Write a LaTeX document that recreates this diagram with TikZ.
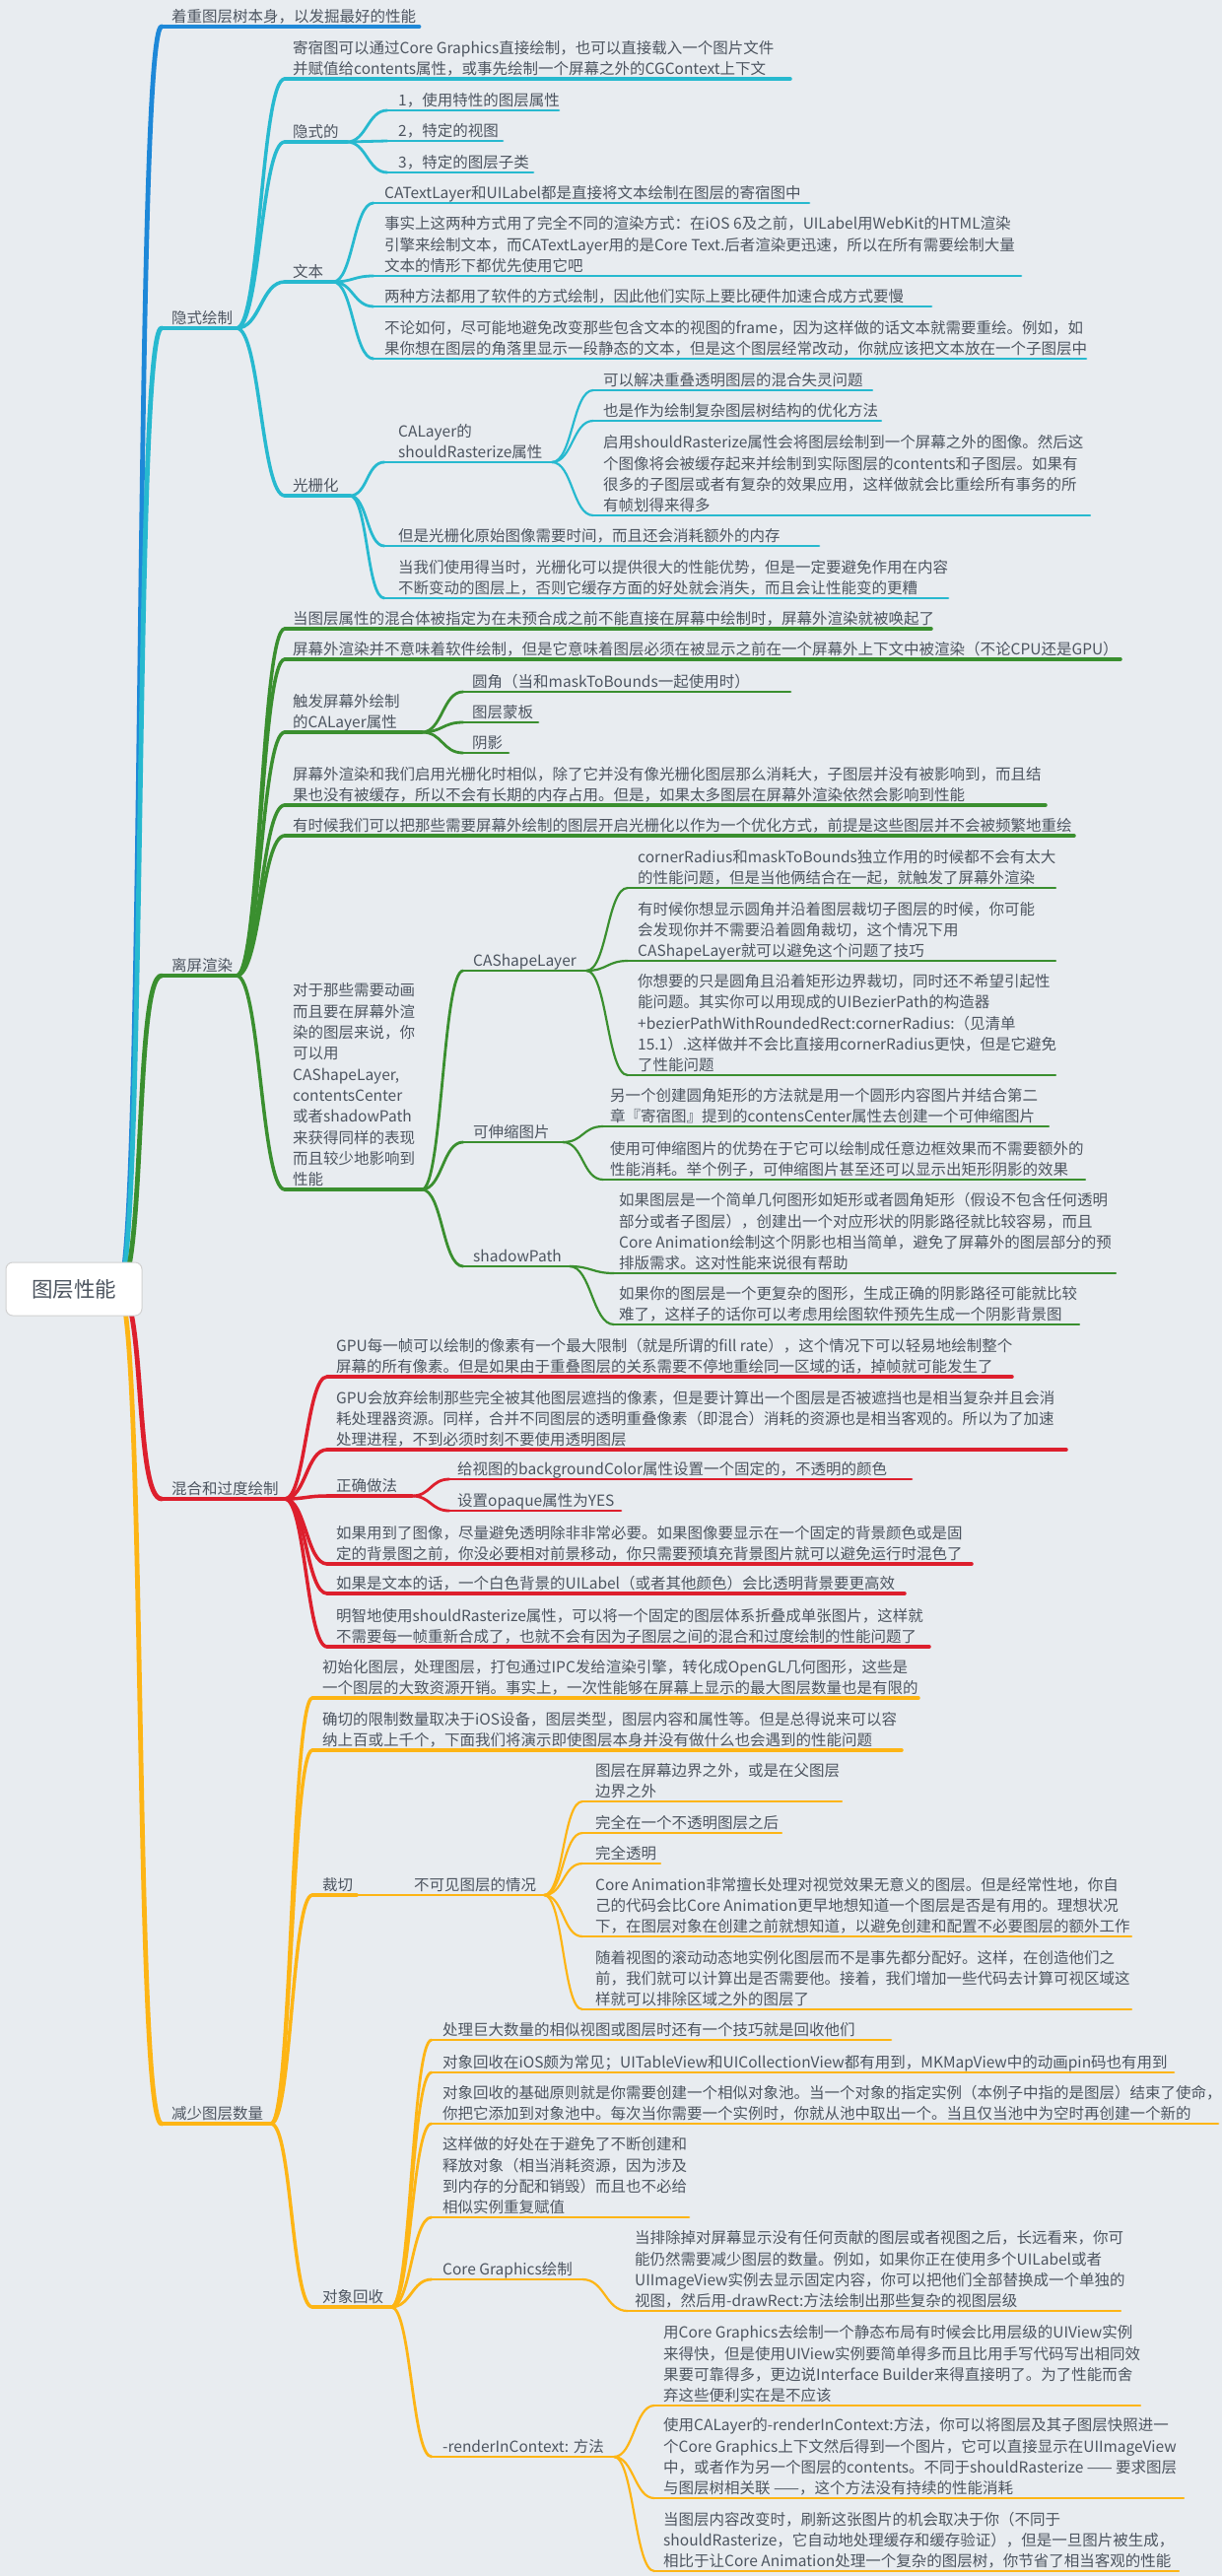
\documentclass[tikz,border=0pt]{standalone}
\usepackage{fontspec}
\setmainfont{Noto Sans CJK SC}
\definecolor{bg}{HTML}{E8ECF0}
\definecolor{tc}{HTML}{4D5560}
\definecolor{cB}{HTML}{1E88D8}
\definecolor{cC}{HTML}{27B9CF}
\definecolor{cG}{HTML}{3A8F2F}
\definecolor{cR}{HTML}{DD1F2D}
\definecolor{cO}{HTML}{FDB515}
\newcommand\tp[7]{%
  \coordinate (#1L) at (#3,#5);
  \coordinate (#1R) at (#6,#5);
  \node[txt] (#1) at (#4,#5-4.2) {#7};
  \draw[#2] (#1L) -- (#1R);}
\newcommand\cn[4]{\draw[#1] (#2R) .. controls +(#4,0) and +(-#4,0) .. (#3L);}
\begin{document}
\begin{tikzpicture}[x=1pt,y=-1pt,
  txt/.style={anchor=south west, inner sep=0pt, align=left, text depth=0pt, text=tc,
    font=\fontsize{15.5}{21.3}\selectfont},
  B1/.style={cB, line width=4.8pt, line cap=round},
  C1/.style={cC, line width=4.8pt, line cap=round},
  C2/.style={cC, line width=3.5pt, line cap=round},
  C3/.style={cC, line width=2.8pt, line cap=round},
  C4/.style={cC, line width=2.2pt, line cap=round},
  G1/.style={cG, line width=4.8pt, line cap=round},
  G2/.style={cG, line width=3.5pt, line cap=round},
  G3/.style={cG, line width=2.8pt, line cap=round},
  G4/.style={cG, line width=2.2pt, line cap=round},
  R1/.style={cR, line width=4.8pt, line cap=round},
  R2/.style={cR, line width=3.5pt, line cap=round},
  R3/.style={cR, line width=2.8pt, line cap=round},
  O1/.style={cO, line width=4.8pt, line cap=round},
  O2/.style={cO, line width=3.5pt, line cap=round},
  O3/.style={cO, line width=2.8pt, line cap=round},
  O4/.style={cO, line width=2.2pt, line cap=round}]
\fill[bg, use as bounding box] (0,0) rectangle (1240,2614);

% root
\coordinate (rootR) at (120,1308);

% ---------- level 1
\tp{a}{B1}{164}{174}{27}{425}{着重图层树本身，以发掘最好的性能}
\tp{b}{C1}{164}{174}{333}{240}{隐式绘制}
\tp{c}{G1}{164}{174}{990}{240}{离屏渲染}
\tp{d}{R1}{164}{174}{1521}{289}{混合和过度绘制}
\tp{e}{O1}{164}{174}{2155}{275}{减少图层数量}
\cn{B1}{root}{a}{28}
\cn{C1}{root}{b}{28}
\cn{G1}{root}{c}{28}
\cn{R1}{root}{d}{28}
\cn{O1}{root}{e}{28}
\node[draw=black!18, fill=white, rounded corners=7pt, line width=1pt, minimum width=138pt, minimum height=54pt,
  inner sep=0pt, text=tc, font=\fontsize{21.5}{24}\selectfont] (root) at (75,1308) {图层性能};

% ---------- cyan
\tp{b1}{C2}{289}{297}{80}{802}{寄宿图可以通过Core Graphics直接绘制，也可以直接载入一个图片文件\\并赋值给contents属性，或事先绘制一个屏幕之外的CGContext上下文}
\tp{b2}{C2}{289}{297}{144}{352}{隐式的}
\tp{b3}{C2}{289}{297}{286}{338}{文本}
\tp{b4}{C2}{289}{297}{503}{355}{光栅化}
\foreach \k in {b1,b2,b3,b4}{\cn{C2}{b}{\k}{24}}

\tp{b21}{C3}{393}{404}{112}{567}{1，使用特性的图层属性}
\tp{b22}{C3}{393}{404}{143}{510}{2，特定的视图}
\tp{b23}{C3}{393}{404}{175}{541}{3，特定的图层子类}
\foreach \k in {b21,b22,b23}{\cn{C3}{b2}{\k}{20}}

\tp{b31}{C3}{379}{390}{206}{821}{CATextLayer和UILabel都是直接将文本绘制在图层的寄宿图中}
\tp{b32}{C3}{379}{390}{280}{1036}{事实上这两种方式用了完全不同的渲染方式：在iOS 6及之前，UILabel用WebKit的HTML渲染\\引擎来绘制文本，而CATextLayer用的是Core Text.后者渲染更迅速，所以在所有需要绘制大量\\文本的情形下都优先使用它吧}
\tp{b33}{C3}{379}{390}{311}{945}{两种方法都用了软件的方式绘制，因此他们实际上要比硬件加速合成方式要慢}
\tp{b34}{C3}{379}{390}{364}{1102}{不论如何，尽可能地避免改变那些包含文本的视图的frame，因为这样做的话文本就需要重绘。例如，如\\果你想在图层的角落里显示一段静态的文本，但是这个图层经常改动，你就应该把文本放在一个子图层中}
\foreach \k in {b31,b32,b33,b34}{\cn{C3}{b3}{\k}{20}}

\tp{b41}{C3}{390}{404}{469}{560}{CALayer的\\shouldRasterize属性}
\tp{b42}{C3}{390}{404}{554}{831}{但是光栅化原始图像需要时间，而且还会消耗额外的内存}
\tp{b43}{C3}{390}{404}{607}{962}{当我们使用得当时，光栅化可以提供很大的性能优势，但是一定要避免作用在内容\\不断变动的图层上，否则它缓存方面的好处就会消失，而且会让性能变的更糟}
\foreach \k in {b41,b42,b43}{\cn{C3}{b4}{\k}{18}}

\tp{b411}{C4}{602}{612}{396}{885}{可以解决重叠透明图层的混合失灵问题}
\tp{b412}{C4}{602}{612}{427}{894}{也是作为绘制复杂图层树结构的优化方法}
\tp{b413}{C4}{602}{612}{523}{1106}{启用shouldRasterize属性会将图层绘制到一个屏幕之外的图像。然后这\\个图像将会被缓存起来并绘制到实际图层的contents和子图层。如果有\\很多的子图层或者有复杂的效果应用，这样做就会比重绘所有事务的所\\有帧划得来得多}
\foreach \k in {b411,b412,b413}{\cn{C4}{b41}{\k}{21}}

% ---------- green
\tp{c1}{G2}{289}{297}{638}{945}{当图层属性的混合体被指定为在未预合成之前不能直接在屏幕中绘制时，屏幕外渲染就被唤起了}
\tp{c2}{G2}{289}{297}{669}{1137}{屏幕外渲染并不意味着软件绘制，但是它意味着图层必须在被显示之前在一个屏幕外上下文中被渲染（不论CPU还是GPU）}
\tp{c3}{G2}{289}{297}{743}{428}{触发屏幕外绘制\\的CALayer属性}
\tp{c4}{G2}{289}{297}{817}{1061}{屏幕外渲染和我们启用光栅化时相似，除了它并没有像光栅化图层那么消耗大，子图层并没有被影响到，而且结\\果也没有被缓存，所以不会有长期的内存占用。但是，如果太多图层在屏幕外渲染依然会影响到性能}
\tp{c5}{G2}{289}{297}{848}{1090}{有时候我们可以把那些需要屏幕外绘制的图层开启光栅化以作为一个优化方式，前提是这些图层并不会被频繁地重绘}
\tp{c6}{G2}{289}{297}{1207}{428}{对于那些需要动画\\而且要在屏幕外渲\\染的图层来说，你\\可以用\\CAShapeLayer,\\contentsCenter\\或者shadowPath\\来获得同样的表现\\而且较少地影响到\\性能}
\foreach \k in {c1,c2,c3,c4,c5,c6}{\cn{G2}{c}{\k}{24}}

\tp{c31}{G3}{470}{479}{702}{802}{圆角（当和maskToBounds一起使用时）}
\tp{c32}{G3}{470}{479}{733}{546}{图层蒙板}
\tp{c33}{G3}{470}{479}{764}{516}{阴影}
\foreach \k in {c31,c32,c33}{\cn{G3}{c3}{\k}{21}}

\tp{c61}{G3}{470}{480}{985}{595}{CAShapeLayer}
\tp{c62}{G3}{470}{480}{1159}{571}{可伸缩图片}
\tp{c63}{G3}{470}{480}{1285}{578}{shadowPath}
\foreach \k in {c61,c62,c63}{\cn{G3}{c6}{\k}{21}}

\tp{c611}{G4}{637}{647}{901}{1071}{cornerRadius和maskToBounds独立作用的时候都不会有太大\\的性能问题，但是当他俩结合在一起，就触发了屏幕外渲染}
\tp{c612}{G4}{637}{647}{975}{1071}{有时候你想显示圆角并沿着图层裁切子图层的时候，你可能\\会发现你并不需要沿着圆角裁切，这个情况下用\\CAShapeLayer就可以避免这个问题了技巧}
\tp{c613}{G4}{637}{647}{1091}{1071}{你想要的只是圆角且沿着矩形边界裁切，同时还不希望引起性\\能问题。其实你可以用现成的UIBezierPath的构造器\\+bezierPathWithRoundedRect:cornerRadius:（见清单\\15.1）.这样做并不会比直接用cornerRadius更快，但是它避免\\了性能问题}
\foreach \k in {c611,c612,c613}{\cn{G4}{c61}{\k}{21}}

\tp{c621}{G4}{612}{619}{1143}{1064}{另一个创建圆角矩形的方法就是用一个圆形内容图片并结合第二\\章『寄宿图』提到的contensCenter属性去创建一个可伸缩图片}
\tp{c622}{G4}{612}{619}{1197}{1101}{使用可伸缩图片的优势在于它可以绘制成任意边框效果而不需要额外的\\性能消耗。举个例子，可伸缩图片甚至还可以显示出矩形阴影的效果}
\foreach \k in {c621,c622}{\cn{G4}{c62}{\k}{21}}

\tp{c631}{G4}{623}{628}{1292}{1132}{如果图层是一个简单几何图形如矩形或者圆角矩形（假设不包含任何透明\\部分或者子图层），创建出一个对应形状的阴影路径就比较容易，而且\\Core Animation绘制这个阴影也相当简单，避免了屏幕外的图层部分的预\\排版需求。这对性能来说很有帮助}
\tp{c632}{G4}{623}{628}{1344}{1095}{如果你的图层是一个更复杂的图形，生成正确的阴影路径可能就比较\\难了，这样子的话你可以考虑用绘图软件预先生成一个阴影背景图}
\foreach \k in {c631,c632}{\cn{G4}{c63}{\k}{22}}

% ---------- red
\tp{d1}{R2}{332}{341}{1397}{1027}{GPU每一帧可以绘制的像素有一个最大限制（就是所谓的fill rate），这个情况下可以轻易地绘制整个\\屏幕的所有像素。但是如果由于重叠图层的关系需要不停地重绘同一区域的话，掉帧就可能发生了}
\tp{d2}{R2}{332}{341}{1471}{1082}{GPU会放弃绘制那些完全被其他图层遮挡的像素，但是要计算出一个图层是否被遮挡也是相当复杂并且会消\\耗处理器资源。同样，合并不同图层的透明重叠像素（即混合）消耗的资源也是相当客观的。所以为了加速\\处理进程，不到必须时刻不要使用透明图层}
\tp{d3}{R2}{332}{341}{1518}{418}{正确做法}
\tp{d4}{R2}{332}{341}{1587}{986}{如果用到了图像，尽量避免透明除非非常必要。如果图像要显示在一个固定的背景颜色或是固\\定的背景图之前，你没必要相对前景移动，你只需要预填充背景图片就可以避免运行时混色了}
\tp{d5}{R2}{332}{341}{1617}{918}{如果是文本的话，一个白色背景的UILabel（或者其他颜色）会比透明背景要更高效}
\tp{d6}{R2}{332}{341}{1671}{943}{明智地使用shouldRasterize属性，可以将一个固定的图层体系折叠成单张图片，这样就\\不需要每一帧重新合成了，也就不会有因为子图层之间的混合和过度绘制的性能问题了}
\foreach \k in {d1,d2,d3,d4,d5,d6}{\cn{R2}{d}{\k}{21}}

\tp{d31}{R3}{456}{464}{1501}{925}{给视图的backgroundColor属性设置一个固定的，不透明的颜色}
\tp{d32}{R3}{456}{464}{1533}{630}{设置opaque属性为YES}
\foreach \k in {d31,d32}{\cn{R3}{d3}{\k}{19}}

% ---------- orange
\tp{e1}{O2}{317}{327}{1723}{932}{初始化图层，处理图层，打包通过IPC发给渲染引擎，转化成OpenGL几何图形，这些是\\一个图层的大致资源开销。事实上，一次性能够在屏幕上显示的最大图层数量也是有限的}
\tp{e2}{O2}{317}{327}{1776}{915}{确切的限制数量取决于iOS设备，图层类型，图层内容和属性等。但是总得说来可以容\\纳上百或上千个，下面我们将演示即使图层本身并没有做什么也会遇到的性能问题}
\tp{e3}{O2}{317}{327}{1923}{362}{裁切}
\tp{e4}{O2}{317}{327}{2341}{397}{对象回收}
\foreach \k in {e1,e2,e3,e4}{\cn{O2}{e}{\k}{21}}

\tp{e31}{O3}{370}{420}{1923}{552}{不可见图层的情况}
\draw[O3] (e3R) -- (e31L);

\tp{e311}{O4}{591}{604}{1828}{854}{图层在屏幕边界之外，或是在父图层\\边界之外}
\tp{e312}{O4}{591}{604}{1860}{793}{完全在一个不透明图层之后}
\tp{e313}{O4}{591}{604}{1891}{670}{完全透明}
\tp{e314}{O4}{591}{604}{1965}{1148}{Core Animation非常擅长处理对视觉效果无意义的图层。但是经常性地，你自\\己的代码会比Core Animation更早地想知道一个图层是否是有用的。理想状况\\下，在图层对象在创建之前就想知道，以避免创建和配置不必要图层的额外工作}
\tp{e315}{O4}{591}{604}{2039}{1148}{随着视图的滚动动态地实例化图层而不是事先都分配好。这样，在创造他们之\\前，我们就可以计算出是否需要他。接着，我们增加一些代码去计算可视区域这\\样就可以排除区域之外的图层了}
\foreach \k in {e311,e312,e313,e314,e315}{\cn{O4}{e31}{\k}{20}}

\tp{e41}{O3}{438}{449}{2070}{904}{处理巨大数量的相似视图或图层时还有一个技巧就是回收他们}
\tp{e42}{O3}{438}{449}{2103}{1191}{对象回收在iOS颇为常见；UITableView和UICollectionView都有用到，MKMapView中的动画pin码也有用到}
\tp{e43}{O3}{438}{449}{2155}{1236}{对象回收的基础原则就是你需要创建一个相似对象池。当一个对象的指定实例（本例子中指的是图层）结束了使命，\\你把它添加到对象池中。每次当你需要一个实例时，你就从池中取出一个。当且仅当池中为空时再创建一个新的}
\tp{e44}{O3}{438}{449}{2250}{699}{这样做的好处在于避免了不断创建和\\释放对象（相当消耗资源，因为涉及\\到内存的分配和销毁）而且也不必给\\相似实例重复赋值}
\tp{e45}{O3}{438}{449}{2313}{591}{Core Graphics绘制}
\tp{e46}{O3}{438}{449}{2493}{623}{-renderInContext: 方法}
\foreach \k in {e41,e42,e43,e44,e45,e46}{\cn{O3}{e4}{\k}{20}}

\tp{e451}{O4}{637}{644}{2345}{1137}{当排除掉对屏幕显示没有任何贡献的图层或者视图之后，长远看来，你可\\能仍然需要减少图层的数量。例如，如果你正在使用多个UILabel或者\\UIImageView实例去显示固定内容，你可以把他们全部替换成一个单独的\\视图，然后用-drawRect:方法绘制出那些复杂的视图层级}
\cn{O4}{e45}{e451}{23}

\tp{e461}{O4}{664}{673}{2441}{1157}{用Core Graphics去绘制一个静态布局有时候会比用层级的UIView实例\\来得快，但是使用UIView实例要简单得多而且比用手写代码写出相同效\\果要可靠得多，更边说Interface Builder来得直接明了。为了性能而舍\\弃这些便利实在是不应该}
\tp{e462}{O4}{664}{673}{2535}{1201}{使用CALayer的-renderInContext:方法，你可以将图层及其子图层快照进一\\个Core Graphics上下文然后得到一个图片，它可以直接显示在UIImageView\\中，或者作为另一个图层的contents。不同于shouldRasterize —— 要求图层\\与图层树相关联 ——，这个方法没有持续的性能消耗}
\tp{e463}{O4}{664}{673}{2609}{1196}{当图层内容改变时，刷新这张图片的机会取决于你（不同于\\shouldRasterize，它自动地处理缓存和缓存验证），但是一旦图片被生成，\\相比于让Core Animation处理一个复杂的图层树，你节省了相当客观的性能}
\foreach \k in {e461,e462,e463}{\cn{O4}{e46}{\k}{20}}
\end{tikzpicture}
\end{document}
